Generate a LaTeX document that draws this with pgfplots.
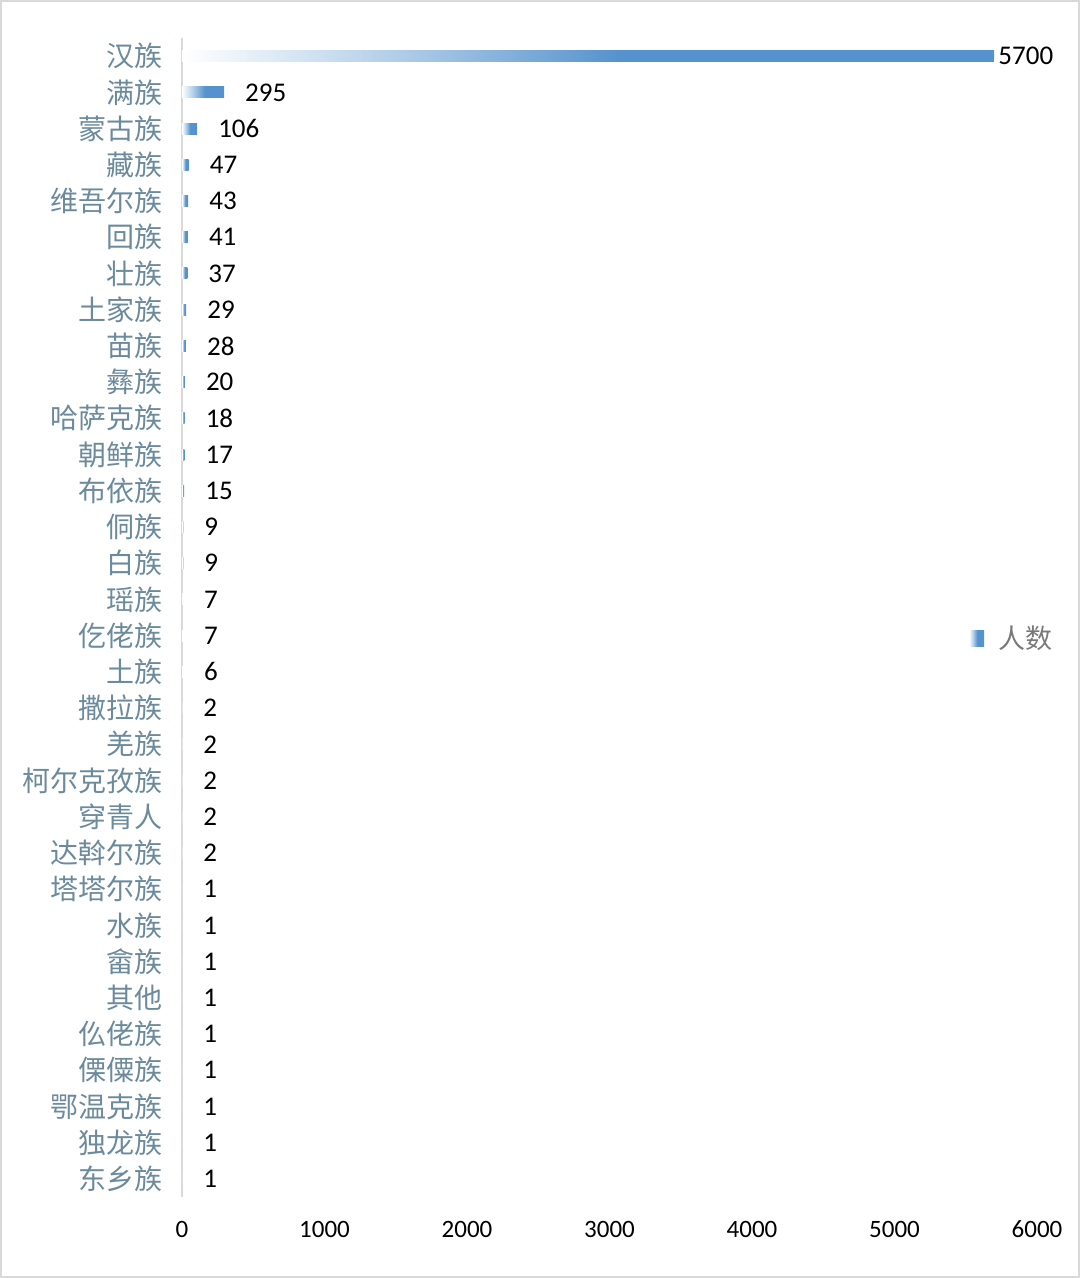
\documentclass[border=0pt]{standalone}
\usepackage{pgfplots}
\pgfplotsset{compat=1.18}
\usepackage{fontspec}
\setmainfont{Carlito}
\newfontfamily\cjk{Noto Sans CJK SC}
\definecolor{barblue}{HTML}{5592CE}
\definecolor{labgray}{HTML}{6B8A9C}
\definecolor{framegray}{HTML}{D9D9D9}
\pgfdeclarehorizontalshading{barshade}{100bp}{color(0bp)=(white); color(25bp)=(white); color(38bp)=(barblue!45); color(52bp)=(barblue); color(100bp)=(barblue)}

\pgfplotstableread{
idx val
0 5700
1 295
2 106
3 47
4 43
5 41
6 37
7 29
8 28
9 20
10 18
11 17
12 15
13 9
14 9
15 7
16 7
17 6
18 2
19 2
20 2
21 2
22 2
23 1
24 1
25 1
26 1
27 1
28 1
29 1
30 1
31 1
}\ethnic

\begin{document}
\begin{tikzpicture}
\useasboundingbox (-182pt,-81pt) rectangle (898pt,1197pt);
\draw[framegray, line width=2.5pt] (-180.75pt,-79.75pt) rectangle (896.75pt,1195.75pt);
\begin{axis}[
  at={(0,0)}, anchor=south west,
  scale only axis,
  width=855pt, height=1159pt,
  xbar, bar width=11pt, bar shift=0pt,
  xmin=0, xmax=6000,
  ymin=-0.5, ymax=31.5,
  y dir=reverse,
  ytick={0,...,31},
  yticklabels={汉族,满族,蒙古族,藏族,维吾尔族,回族,壮族,土家族,苗族,彝族,哈萨克族,朝鲜族,布依族,侗族,白族,瑶族,仡佬族,土族,撒拉族,羌族,柯尔克孜族,穿青人,达斡尔族,塔塔尔族,水族,畲族,其他,仫佬族,傈僳族,鄂温克族,独龙族,东乡族},
  xtick={0,1000,...,6000},
  scaled x ticks=false,
  /pgf/number format/assume math mode=true,
  /pgf/number format/1000 sep={},
  axis x line*=bottom,
  x axis line style={draw=none},
  axis y line*=left,
  y axis line style={framegray, line width=1.5pt, -},
  major tick length=0pt,
  tick style={draw=none},
  yticklabel style={font=\cjk\fontsize{28}{30}\selectfont, text=labgray, anchor=east, inner sep=0pt, xshift=-19pt},
  xticklabel style={font=\fontsize{25}{28}\selectfont, anchor=center, inner sep=0pt, yshift=-32pt},
  nodes near coords,
  visualization depends on={ifthenelse(x>5000,4,21) \as \labshift},
  every node near coord/.append style={font=\fontsize{27}{30}\selectfont, black, anchor=west, inner sep=0pt, xshift=\labshift pt},
  legend style={draw=none, fill=none, at={(0.917,0.482)}, anchor=west, font=\cjk\fontsize{27}{30}\selectfont, text=gray!95!black, legend cell align=left, column sep=12pt},
  clip=false,
]
% one plot per row, so that every bar gets its own gradient
\pgfplotsinvokeforeach{0,...,31}{
  \addplot[draw=none, shade, shading=barshade, forget plot,
    restrict y to domain=#1:#1]
    table[x=val, y=idx] {\ethnic};
}
\addlegendimage{legend image code/.code={\path[draw=none, shade, shading=barshade] (0pt,-8pt) rectangle (15pt,8pt);}}
\addlegendentry{人数}
\end{axis}
\end{tikzpicture}
\end{document}
